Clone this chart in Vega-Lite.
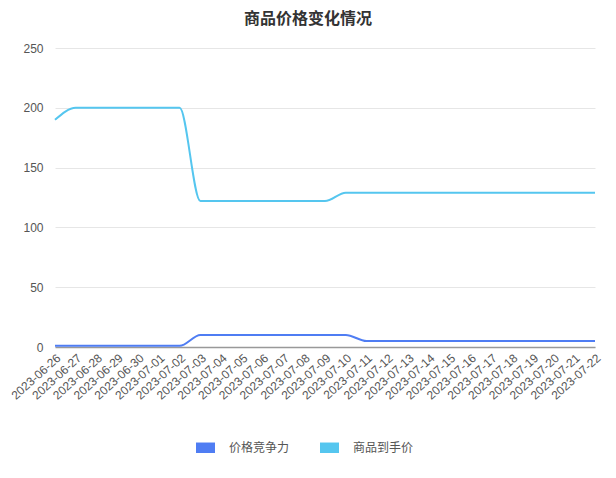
{
  "$schema": "https://vega.github.io/schema/vega-lite/v6.json",
  "width": 540,
  "height": 299,
  "autosize": "none",
  "padding": {"left": 55, "top": 48, "right": 21, "bottom": 131},
  "background": "white",
  "title": {
    "text": "商品价格变化情况",
    "anchor": "middle",
    "fontSize": 16,
    "fontWeight": "bold",
    "color": "#333333",
    "font": "Noto Sans CJK SC",
    "offset": 15,
    "dx": -17
  },
  "data": {
    "values": [
      {"date": "2023-06-26", "series": "价格竞争力", "value": 1},
      {"date": "2023-06-27", "series": "价格竞争力", "value": 1},
      {"date": "2023-06-28", "series": "价格竞争力", "value": 1},
      {"date": "2023-06-29", "series": "价格竞争力", "value": 1},
      {"date": "2023-06-30", "series": "价格竞争力", "value": 1},
      {"date": "2023-07-01", "series": "价格竞争力", "value": 1},
      {"date": "2023-07-02", "series": "价格竞争力", "value": 1},
      {"date": "2023-07-03", "series": "价格竞争力", "value": 10},
      {"date": "2023-07-04", "series": "价格竞争力", "value": 10},
      {"date": "2023-07-05", "series": "价格竞争力", "value": 10},
      {"date": "2023-07-06", "series": "价格竞争力", "value": 10},
      {"date": "2023-07-07", "series": "价格竞争力", "value": 10},
      {"date": "2023-07-08", "series": "价格竞争力", "value": 10},
      {"date": "2023-07-09", "series": "价格竞争力", "value": 10},
      {"date": "2023-07-10", "series": "价格竞争力", "value": 10},
      {"date": "2023-07-11", "series": "价格竞争力", "value": 5},
      {"date": "2023-07-12", "series": "价格竞争力", "value": 5},
      {"date": "2023-07-13", "series": "价格竞争力", "value": 5},
      {"date": "2023-07-14", "series": "价格竞争力", "value": 5},
      {"date": "2023-07-15", "series": "价格竞争力", "value": 5},
      {"date": "2023-07-16", "series": "价格竞争力", "value": 5},
      {"date": "2023-07-17", "series": "价格竞争力", "value": 5},
      {"date": "2023-07-18", "series": "价格竞争力", "value": 5},
      {"date": "2023-07-19", "series": "价格竞争力", "value": 5},
      {"date": "2023-07-20", "series": "价格竞争力", "value": 5},
      {"date": "2023-07-21", "series": "价格竞争力", "value": 5},
      {"date": "2023-07-22", "series": "价格竞争力", "value": 5},
      {"date": "2023-06-26", "series": "商品到手价", "value": 190},
      {"date": "2023-06-27", "series": "商品到手价", "value": 200},
      {"date": "2023-06-28", "series": "商品到手价", "value": 200},
      {"date": "2023-06-29", "series": "商品到手价", "value": 200},
      {"date": "2023-06-30", "series": "商品到手价", "value": 200},
      {"date": "2023-07-01", "series": "商品到手价", "value": 200},
      {"date": "2023-07-02", "series": "商品到手价", "value": 200},
      {"date": "2023-07-03", "series": "商品到手价", "value": 122},
      {"date": "2023-07-04", "series": "商品到手价", "value": 122},
      {"date": "2023-07-05", "series": "商品到手价", "value": 122},
      {"date": "2023-07-06", "series": "商品到手价", "value": 122},
      {"date": "2023-07-07", "series": "商品到手价", "value": 122},
      {"date": "2023-07-08", "series": "商品到手价", "value": 122},
      {"date": "2023-07-09", "series": "商品到手价", "value": 122},
      {"date": "2023-07-10", "series": "商品到手价", "value": 129},
      {"date": "2023-07-11", "series": "商品到手价", "value": 129},
      {"date": "2023-07-12", "series": "商品到手价", "value": 129},
      {"date": "2023-07-13", "series": "商品到手价", "value": 129},
      {"date": "2023-07-14", "series": "商品到手价", "value": 129},
      {"date": "2023-07-15", "series": "商品到手价", "value": 129},
      {"date": "2023-07-16", "series": "商品到手价", "value": 129},
      {"date": "2023-07-17", "series": "商品到手价", "value": 129},
      {"date": "2023-07-18", "series": "商品到手价", "value": 129},
      {"date": "2023-07-19", "series": "商品到手价", "value": 129},
      {"date": "2023-07-20", "series": "商品到手价", "value": 129},
      {"date": "2023-07-21", "series": "商品到手价", "value": 129},
      {"date": "2023-07-22", "series": "商品到手价", "value": 129}
    ]
  },
  "mark": {"type": "line", "interpolate": "monotone", "strokeWidth": 2},
  "encoding": {
    "x": {
      "field": "date",
      "type": "ordinal",
      "sort": null,
      "scale": {"type": "point", "padding": 0},
      "axis": {
        "title": null,
        "labelAngle": -42,
        "labelFont": "Liberation Sans",
        "labelFontSize": 12,
        "labelColor": "#555555",
        "labelPadding": 5,
        "ticks": false,
        "domainColor": "#999999",
        "domainWidth": 1.5,
        "grid": false
      }
    },
    "y": {
      "field": "value",
      "type": "quantitative",
      "scale": {"domain": [0, 250]},
      "axis": {
        "title": null,
        "values": [0, 50, 100, 150, 200, 250],
        "labelFont": "Liberation Sans",
        "labelFontSize": 12,
        "labelColor": "#555555",
        "labelPadding": 12,
        "ticks": false,
        "domain": false,
        "gridColor": "#e6e6e6"
      }
    },
    "color": {
      "field": "series",
      "type": "nominal",
      "scale": {
        "domain": ["价格竞争力", "商品到手价"],
        "range": ["#4F7DF3", "#55C6EF"]
      },
      "legend": {
        "title": null,
        "orient": "none",
        "direction": "horizontal",
        "legendX": 141,
        "legendY": 390,
        "symbolType": "M-1,-0.55H1V0.55H-1Z",
        "symbolSize": 361,
        "labelFontSize": 12,
        "labelColor": "#555555",
        "labelOffset": 14,
        "columnPadding": 30,
        "encode": {
          "symbols": {
            "update": {
              "fill": {"scale": "color", "field": "value"},
              "stroke": {"value": "transparent"},
              "strokeWidth": {"value": 0}
            }
          }
        }
      }
    }
  },
  "config": {
    "font": "Noto Sans CJK SC",
    "view": {"stroke": null}
  }
}
